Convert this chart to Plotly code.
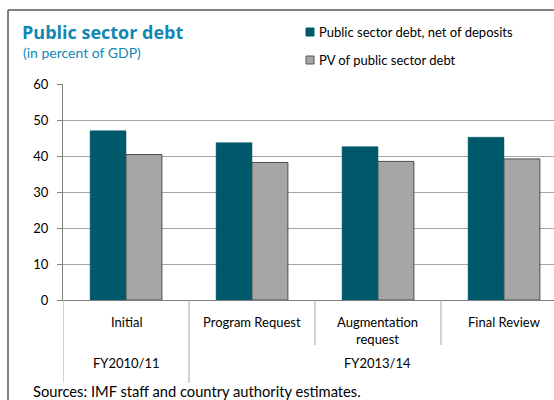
import plotly.graph_objects as go

# Data
categories = ["Initial", "Program Request", "Augmentation<br>request", "Final Review"]
periods = ["FY2010/11", "FY2013/14"]
period_spans = [(0, 0), (1, 3)]  # first/last category index of each period
net_debt = [47.0, 43.7, 42.6, 45.2]
pv_debt = [40.4, 38.2, 38.5, 39.2]
series_names = ["Public sector debt, net of deposits", "PV of public sector debt"]
y_ticks = [0, 10, 20, 30, 40, 50, 60]

DARK = "#00596B"
GREY = "#A6A6A6"
TEAL_TEXT = "#1187B5"
FONT = "Lato"

W, H = 554, 400
L, R, T, B = 63, 0, 84, 100
PW, PH = W - L - R, H - T - B


def px(x):
    return (x - L) / PW


def py(y):
    return (H - B - y) / PH


xi = list(range(len(categories)))

fig = go.Figure()
fig.add_trace(go.Bar(x=xi, y=net_debt, name=series_names[0],
                     marker=dict(color=DARK, line=dict(color=DARK, width=0.5))))
fig.add_trace(go.Bar(x=xi, y=pv_debt, name=series_names[1],
                     marker=dict(color=GREY, line=dict(color="#4D4D4D", width=1))))

shapes = []
annotations = []

# Outer frame (left and top edges)
shapes.append(dict(type="line", xref="paper", yref="paper",
                   x0=px(8), x1=px(8), y0=py(10), y1=py(400),
                   line=dict(color="#595959", width=1.5)))
shapes.append(dict(type="line", xref="paper", yref="paper",
                   x0=px(8), x1=px(554), y0=py(10), y1=py(10),
                   line=dict(color="#595959", width=1.5)))

# Category separators below the axis
for k in range(len(categories)):
    edge = k - 0.5
    is_group_edge = any(edge == s - 0.5 for s, _ in period_spans)
    shapes.append(dict(type="line", xref="x", yref="paper",
                       x0=edge, x1=edge, y0=0, y1=py(383 if is_group_edge else 345),
                       line=dict(color="#A6A6A6", width=1)))

# Category labels
for k, c in enumerate(categories):
    annotations.append(dict(x=k, y=py(312), xref="x", yref="paper", text=c,
                            showarrow=False, xanchor="center", yanchor="top",
                            font=dict(family=FONT, size=13, color="#000")))

# Period labels
for p, (s, e) in zip(periods, period_spans):
    annotations.append(dict(x=(s + e) / 2, y=py(363), xref="x", yref="paper", text=p,
                            showarrow=False, xanchor="center", yanchor="middle",
                            font=dict(family=FONT, size=13, color="#000")))

# Title and subtitle
annotations.append(dict(x=px(20), y=py(32), xref="paper", yref="paper",
                        text="<b>Public sector debt</b>", showarrow=False,
                        xanchor="left", yanchor="middle",
                        font=dict(family="Open Sans", size=18, color=TEAL_TEXT)))
annotations.append(dict(x=px(21), y=py(53), xref="paper", yref="paper",
                        text="(in percent of GDP)", showarrow=False,
                        xanchor="left", yanchor="middle",
                        font=dict(family=FONT, size=14, color=TEAL_TEXT)))

# Legend drawn as swatches + labels
legend_rows = [(32, DARK, DARK), (60, GREY, "#595959")]
for (yy, fill, edge), name in zip(legend_rows, series_names):
    shapes.append(dict(type="rect", xref="paper", yref="paper",
                       x0=px(306), x1=px(314), y0=py(yy - 4), y1=py(yy + 4),
                       fillcolor=fill, line=dict(color=edge, width=1)))
    annotations.append(dict(x=px(317), y=py(yy), xref="paper", yref="paper",
                            text=name, showarrow=False, xanchor="left", yanchor="middle",
                            font=dict(family=FONT, size=13, color="#000")))

# Source note
annotations.append(dict(x=px(31), y=py(391), xref="paper", yref="paper",
                        text="Sources: IMF staff and country authority estimates.",
                        showarrow=False, xanchor="left", yanchor="middle",
                        font=dict(family=FONT, size=14.7, color="#000")))

fig.update_layout(
    width=W, height=H,
    margin=dict(l=L, r=R, t=T, b=B, pad=0),
    paper_bgcolor="white", plot_bgcolor="white",
    barmode="group", bargap=0.43, bargroupgap=0,
    showlegend=False,
    shapes=shapes, annotations=annotations,
    xaxis=dict(range=[-0.5, 3.397], showticklabels=False, showgrid=False,
               showline=True, linecolor="#7F7F7F", linewidth=1, ticks="",
               zeroline=False, fixedrange=True),
    yaxis=dict(range=[0, 60], tickvals=y_ticks, showgrid=True, gridcolor="#A6A6A6",
               gridwidth=1, showline=True, linecolor="#7F7F7F", linewidth=1,
               ticks="outside", ticklen=5, tickcolor="#7F7F7F",
               ticklabelstandoff=6, zeroline=False,
               tickfont=dict(family=FONT, size=13, color="#000"), fixedrange=True),
)

fig.write_html("out.html")
